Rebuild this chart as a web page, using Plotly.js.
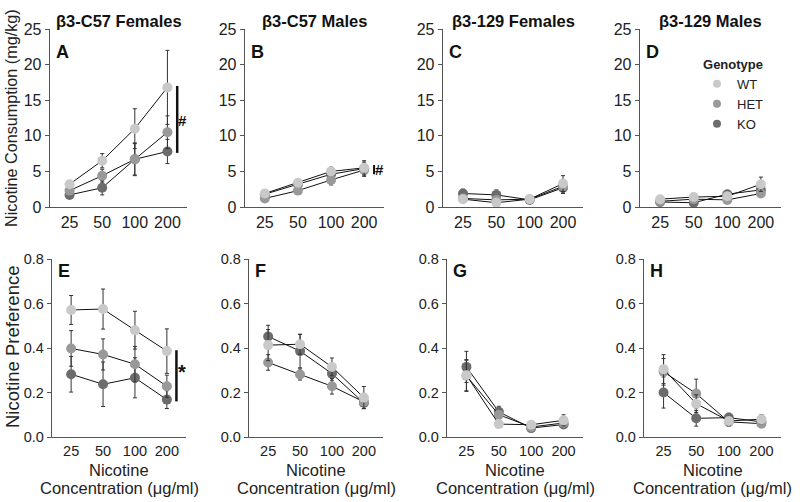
<!DOCTYPE html>
<html><head><meta charset="utf-8">
<script src="https://cdn.plot.ly/plotly-3.0.1.min.js"></script>
<style>body{margin:0;background:#fff}#chart{width:800px;height:502px}</style>
</head><body><div id="chart"></div>
<script>
// ---- data ----
const conc = ['25', '50', '100', '200'];
const genotypes = ['WT', 'HET', 'KO'];
const panelTitles = ['β3-C57 Females', 'β3-C57 Males', 'β3-129 Females', 'β3-129 Males'];
const panelLetters = ['A', 'B', 'C', 'D', 'E', 'F', 'G', 'H'];
const consTicks = [0, 5, 10, 15, 20, 25];
const prefTicks = [0, 0.2, 0.4, 0.6, 0.8];
const prefTickText = ['0.0', '0.2', '0.4', '0.6', '0.8'];

// Consumption (mg/kg)
const A_WT = [3.2, 6.5, 11.0, 16.8],  A_WT_err = [0.5, 1.0, 2.8, 5.2];
const A_HET = [2.3, 4.4, 6.7, 10.5],  A_HET_err = [0.5, 0.9, 2.3, 2.3];
const A_KO = [1.7, 2.7, 6.7, 7.8],    A_KO_err = [0.4, 1.0, 2.2, 1.7];
const B_WT = [1.9, 3.4, 5.0, 5.5],    B_WT_err = [0.3, 0.4, 0.6, 1.0];
const B_HET = [1.2, 2.3, 3.8, 5.2],   B_HET_err = [0.3, 0.4, 0.7, 0.9];
const B_KO = [1.8, 3.2, 4.6, 5.4],    B_KO_err = [0.3, 0.4, 0.5, 0.9];
const C_WT = [1.1, 0.6, 1.1, 3.3],    C_WT_err = [0.4, 0.4, 0.2, 1.1];
const C_HET = [1.2, 1.0, 1.1, 2.9],   C_HET_err = [0.4, 0.5, 0.2, 0.8];
const C_KO = [1.9, 1.7, 1.0, 2.7],    C_KO_err = [0.6, 0.7, 0.2, 0.8];
const D_WT = [1.1, 1.4, 1.5, 3.2],    D_WT_err = [0.3, 0.3, 0.4, 1.0];
const D_HET = [0.8, 1.1, 1.0, 1.9],   D_HET_err = [0.3, 0.3, 0.3, 0.5];
const D_KO = [0.7, 0.6, 1.8, 2.4],    D_KO_err = [0.3, 0.4, 0.4, 0.6];
// Preference
const E_WT = [0.571, 0.575, 0.48, 0.386],  E_WT_err = [0.065, 0.09, 0.085, 0.1];
const E_HET = [0.398, 0.371, 0.327, 0.228], E_HET_err = [0.08, 0.07, 0.08, 0.05];
const E_KO = [0.282, 0.237, 0.266, 0.168],  E_KO_err = [0.08, 0.1, 0.09, 0.04];
const F_WT = [0.413, 0.417, 0.315, 0.177],  F_WT_err = [0.07, 0.045, 0.04, 0.05];
const F_HET = [0.335, 0.281, 0.228, 0.158], F_HET_err = [0.035, 0.025, 0.035, 0.02];
const F_KO = [0.452, 0.386, 0.285, 0.153],  F_KO_err = [0.05, 0.075, 0.03, 0.025];
const G_WT = [0.278, 0.058, 0.055, 0.075],  G_WT_err = [0.07, 0.015, 0.01, 0.025];
const G_HET = [0.275, 0.1, 0.045, 0.063],   G_HET_err = [0.07, 0.02, 0.01, 0.02];
const G_KO = [0.315, 0.113, 0.04, 0.056],   G_KO_err = [0.07, 0.025, 0.01, 0.015];
const H_WT = [0.305, 0.15, 0.072, 0.08],    H_WT_err = [0.065, 0.04, 0.02, 0.02];
const H_HET = [0.293, 0.195, 0.068, 0.06],  H_HET_err = [0.06, 0.065, 0.02, 0.015];
const H_KO = [0.2, 0.084, 0.087, 0.068],    H_KO_err = [0.07, 0.035, 0.02, 0.015];

// ---- styling ----
const colors = {WT: '#c9c9c9', HET: '#999999', KO: '#6c6c6c'};
const FONT = 'Liberation Sans, Arial, sans-serif';
const panels = [
  {WT: [A_WT, A_WT_err], HET: [A_HET, A_HET_err], KO: [A_KO, A_KO_err]},
  {WT: [B_WT, B_WT_err], HET: [B_HET, B_HET_err], KO: [B_KO, B_KO_err]},
  {WT: [C_WT, C_WT_err], HET: [C_HET, C_HET_err], KO: [C_KO, C_KO_err]},
  {WT: [D_WT, D_WT_err], HET: [D_HET, D_HET_err], KO: [D_KO, D_KO_err]},
  {WT: [E_WT, E_WT_err], HET: [E_HET, E_HET_err], KO: [E_KO, E_KO_err]},
  {WT: [F_WT, F_WT_err], HET: [F_HET, F_HET_err], KO: [F_KO, F_KO_err]},
  {WT: [G_WT, G_WT_err], HET: [G_HET, G_HET_err], KO: [G_KO, G_KO_err]},
  {WT: [H_WT, H_WT_err], HET: [H_HET, H_HET_err], KO: [H_KO, H_KO_err]}
];
const W = 800, H = 502;
const xdomPx = [[50, 187], [245, 384], [443, 583], [640, 781], [52, 186], [249, 383], [447, 583], [644, 781]];
const ydomPx = [[29, 207], [259, 437]];

const traces = [];
const layout = {
  width: W, height: H, margin: {l: 0, r: 0, t: 0, b: 0},
  paper_bgcolor: '#fff', plot_bgcolor: '#fff',
  font: {family: FONT, size: 15, color: '#222'},
  showlegend: true,
  legend: {x: 697 / W, y: 1 - 52 / H, xanchor: 'left', yanchor: 'top',
    title: {text: '<b>Genotype</b>', side: 'top center', font: {size: 13, color: '#222'}},
    font: {size: 13, color: '#222'}, bgcolor: 'rgba(0,0,0,0)', tracegroupgap: 0, itemwidth: 30},
  annotations: [], shapes: []
};

panels.forEach((p, i) => {
  const n = i + 1;
  const xa = n === 1 ? 'x' : 'x' + n, ya = n === 1 ? 'y' : 'y' + n;
  const bottom = i >= 4;
  ['KO', 'HET', 'WT'].forEach(g => {
    traces.push({
      type: 'scatter', mode: 'lines+markers', x: conc, y: p[g][0], xaxis: xa, yaxis: ya,
      showlegend: false, name: g,
      line: {color: '#111', width: 1},
      marker: {color: colors[g], size: 10},
      error_y: {type: 'data', array: p[g][1], visible: true, color: '#333', thickness: 1, width: 2}
    });
  });
  const xd = xdomPx[i], yd = ydomPx[bottom ? 1 : 0];
  const tickSize = bottom ? 14.5 : 16;
  const axX = {
    domain: [xd[0] / W, xd[1] / W], anchor: ya, type: 'category', range: [-0.6, 3.6],
    showgrid: false, zeroline: false, showline: true, linecolor: '#555', linewidth: 1.3,
    ticks: '', automargin: false,
    tickfont: {size: tickSize, color: '#222'}, fixedrange: true
  };
  const axY = {
    domain: [1 - yd[1] / H, 1 - yd[0] / H], anchor: xa,
    range: bottom ? [0, 0.8] : [0, 25],
    tickvals: bottom ? prefTicks : consTicks,
    ticktext: bottom ? prefTickText : consTicks.map(String),
    showgrid: false, zeroline: false, showline: true, linecolor: '#555', linewidth: 1.3,
    ticks: 'outside', ticklen: 4, tickcolor: '#555', automargin: false,
    tickfont: {size: tickSize, color: '#222'}, fixedrange: true
  };
  layout['xaxis' + (n === 1 ? '' : n)] = axX;
  layout['yaxis' + (n === 1 ? '' : n)] = axY;
  // panel letters
  layout.annotations.push({xref: xa + ' domain', yref: ya + ' domain', x: 0.03, y: bottom ? 0.933 : 0.871,
    xanchor: 'left', yanchor: 'middle', showarrow: false, text: '<b>' + panelLetters[i] + '</b>',
    font: {size: 18, color: '#111'}});
  if (!bottom) {
    layout.annotations.push({xref: xa + ' domain', yref: 'paper', x: 0.5, y: 1 - 21 / H,
      xanchor: 'center', yanchor: 'middle', showarrow: false, text: '<b>' + panelTitles[i] + '</b>',
      font: {size: 16.5, color: '#111'}});
  } else {
    layout.annotations.push({xref: xa + ' domain', yref: 'paper', x: 0.5, y: 1 - 470 / H,
      xanchor: 'center', yanchor: 'middle', showarrow: false, text: 'Nicotine', font: {size: 16.5}});
    layout.annotations.push({xref: xa + ' domain', yref: 'paper', x: 0.5, y: 1 - 488 / H,
      xanchor: 'center', yanchor: 'middle', showarrow: false, text: 'Concentration (μg/ml)', font: {size: 16.5}});
  }
});

// legend-only traces
genotypes.forEach(g => traces.push({type: 'scatter', mode: 'markers', x: [null], y: [null],
  xaxis: 'x4', yaxis: 'y4', name: g, showlegend: true, marker: {color: colors[g], size: 8}}));

// y axis titles
layout.annotations.push({xref: 'paper', yref: 'paper', x: 11 / W, y: 1 - 118 / H, textangle: -90,
  showarrow: false, text: 'Nicotine Consumption (mg/kg)', font: {size: 16.2}, xanchor: 'center', yanchor: 'middle'});
layout.annotations.push({xref: 'paper', yref: 'paper', x: 12 / W, y: 1 - 347 / H, textangle: -90,
  showarrow: false, text: 'Nicotine Preference', font: {size: 18.5}, xanchor: 'center', yanchor: 'middle'});

// significance markers
layout.shapes.push({type: 'line', xref: 'x', yref: 'y', x0: 3.3, x1: 3.3, y0: 7.6, y1: 17, line: {color: '#111', width: 2.5}});
layout.annotations.push({xref: 'x', yref: 'y', x: 3.45, y: 12.2, text: '<b>#</b>', showarrow: false, font: {size: 15, color: '#111'}});
layout.shapes.push({type: 'line', xref: 'x2', yref: 'y2', x0: 3.3, x1: 3.3, y0: 4.6, y1: 5.9, line: {color: '#111', width: 2}});
layout.annotations.push({xref: 'x2', yref: 'y2', x: 3.45, y: 5.25, text: '<b>#</b>', showarrow: false, font: {size: 15, color: '#111'}});
layout.shapes.push({type: 'line', xref: 'x5', yref: 'y5', x0: 3.3, x1: 3.3, y0: 0.16, y1: 0.39, line: {color: '#111', width: 2.5}});
layout.annotations.push({xref: 'x5', yref: 'y5', x: 3.48, y: 0.29, text: '<b>*</b>', showarrow: false, font: {size: 20, color: '#111'}});

Plotly.newPlot('chart', traces, layout, {displayModeBar: false, staticPlot: true});
</script></body></html>
